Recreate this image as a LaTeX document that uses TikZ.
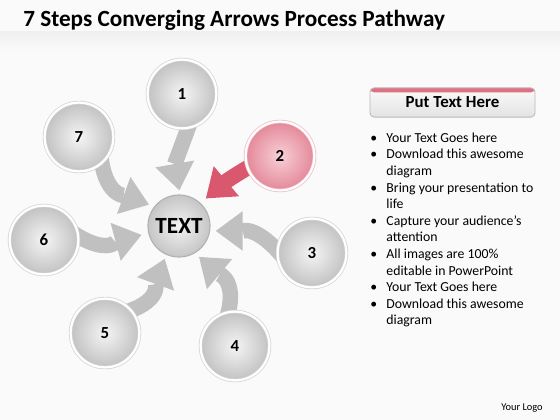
\documentclass[tikz,border=0pt]{standalone}
\usepackage{fontspec}
\setmainfont{Carlito}
\usetikzlibrary{arrows.meta}
\pgfdeclarelayer{back}
\pgfdeclarelayer{flows}
\pgfsetlayers{back,flows,main}
\definecolor{pagebg}{RGB}{250,250,250}
\definecolor{flowgray}{RGB}{192,192,192}
\definecolor{flowred}{RGB}{218,88,110}
\definecolor{pinkin}{RGB}{247,208,214}
\definecolor{pinkout}{RGB}{228,136,153}
\definecolor{pinkband}{RGB}{222,112,130}
\tikzset{
  stepball/.style={circle, minimum size=1.72cm, inner sep=0pt,
    inner color=gray!8, outer color=gray!48,
    draw=gray!35, line width=0.5pt, double=white, double distance=1.6pt,
    font=\fontsize{12}{14}\selectfont\bfseries},
  hotball/.style={stepball, inner color=pinkin, outer color=pinkout, draw=pinkout!60},
  hub/.style={circle, minimum size=1.55cm, inner sep=0pt,
    inner color=gray!10, outer color=gray!45, draw=gray!60, line width=0.8pt,
    font=\fontsize{16.5}{18}\selectfont\bfseries},
  flow/.style={line width=11pt, color=flowgray, shorten <=-8pt, looseness=1.2,
    -{Triangle[width=28pt,length=19pt,line width=0pt]}},
  hotflow/.style={flow, color=flowred},
  btn/.style={rectangle, rounded corners=3pt, minimum width=4.125cm, minimum height=0.73cm,
    top color=gray!4, bottom color=gray!22, draw=gray!55, line width=0.6pt,
    path picture={\fill[pinkband] ([yshift=1pt]path picture bounding box.north west)
      rectangle ([yshift=-3.2pt]path picture bounding box.north east);},
    font=\fontsize{12}{14}\selectfont\bfseries},
}
\begin{document}
\begin{tikzpicture}[x=0.025cm, y=0.025cm]
  \useasboundingbox (0,0) rectangle (560,420);
  % page
  \begin{pgfonlayer}{back}
    \fill[pagebg] (0,0) rectangle (560,420);
    \shade[top color=gray!12, bottom color=pagebg] (0,370) rectangle (560,388);
  \end{pgfonlayer}
  % title
  \node[anchor=base west, inner sep=0pt, font=\fontsize{16.5}{20}\selectfont\bfseries]
    (title) at (23,393) {7 Steps Converging Arrows Process Pathway};
  %
  \node[hub] (hub) at (179,194) {TEXT};
  \node[stepball] (n1) at (182,326) {1};
  \node[hotball] (n2) at (280,264) {2};
  \node[stepball] (n3) at (312,167) {3};
  \node[stepball] (n4) at (235,74) {4};
  \node[stepball] (n5) at (105,87) {5};
  \node[stepball] (n6) at (44,180) {6};
  \node[stepball] (n7) at (79,283) {7};
  % arrows
  \begin{pgfonlayer}{flows}
    \draw[flow, shorten >=3pt] (n1.-80) to[out=-110, in=100] (hub.88);
    \draw[hotflow, shorten >=5pt] (n2.200) to[out=210, in=40] (hub.47);
    \draw[flow, shorten >=4pt] (n3.175) to[out=130, in=0] (hub.-9);
    \draw[flow, shorten >=4pt] (n4.100) to[out=70, in=-40] (hub.-60);
    \draw[flow, shorten >=3pt] (n5.40) to[out=15, in=-110] (hub.-114);
    \draw[flow, shorten >=5pt] (n6.5) to[out=-35, in=195] (hub.193);
    \draw[flow, shorten >=4pt] (n7.-50) to[out=-85, in=160] (hub.142);
  \end{pgfonlayer}
  % side panel
  \node[btn] (btn) at (452.5,317.5) {Put Text Here};
  \node[anchor=north west, inner sep=0pt, font=\fontsize{9.8}{11.8}\selectfont]
    (notes) at (370,289.5) {%
    \begin{tabular}{@{}p{11.5pt}@{}l@{}}
      \textbullet & Your Text Goes here\\
      \textbullet & Download this awesome\\
                  & diagram\\
      \textbullet & Bring your presentation to\\
                  & life\\
      \textbullet & Capture your audience’s\\
                  & attention\\
      \textbullet & All images are 100\%\\
                  & editable in PowerPoint\\
      \textbullet & Your Text Goes here\\
      \textbullet & Download this awesome\\
                  & diagram
    \end{tabular}};
  \node[font=\fontsize{7.4}{9}\selectfont] (logo) at (522,12) {Your Logo};
\end{tikzpicture}
\end{document}
